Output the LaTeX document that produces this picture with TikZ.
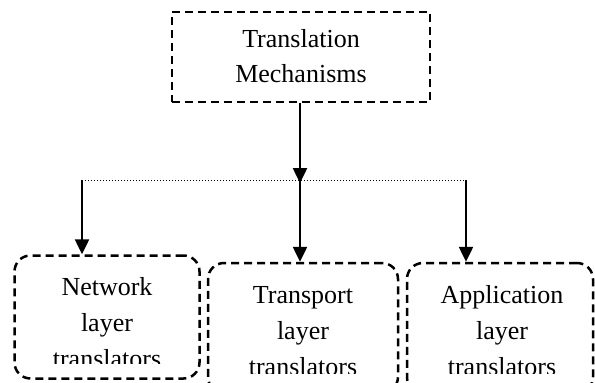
\documentclass[tikz,border=0pt]{standalone}
\usepackage{fontspec}
\setmainfont{Liberation Serif}
\usetikzlibrary{arrows.meta}

\tikzset{
  box/.style={draw, line width=2.5pt, dash pattern=on 8pt off 5pt, inner sep=0pt},
  leaf/.style={box, rounded corners=16pt},
  txt/.style={align=center, inner sep=0pt, anchor=base, font=\fontsize{26}{36}\selectfont},
  arr/.style={line width=2.5pt, -{Triangle[length=15pt,width=14pt]}}
}

\begin{document}
\begin{tikzpicture}[x=1pt,y=-1pt]
    \useasboundingbox (0,0) rectangle (595,383);
    \clip (0,0) rectangle (595,383);
    \node[box, minimum width=258pt, minimum height=90pt] (mech) at (301,57) {};
    \node[txt, font=\fontsize{26}{35}\selectfont] (mechtxt) at (301,82) {Translation\\Mechanisms};
    \node[leaf, minimum width=185pt, minimum height=123pt] (net) at (107,317) {};
    \node[leaf, minimum width=190pt, minimum height=130pt] (trans) at (303,328) {};
    \node[leaf, minimum width=186pt, minimum height=130pt] (app) at (500,328) {};
    \begin{scope}
      \clip (net.north west) rectangle (net.east |- 0,363);
      \node[txt] (nettxt) at (107,367) {Network\\layer\\translators};
    \end{scope}
    \begin{scope}
      \clip (trans.north west) rectangle (trans.east |- 0,373);
      \node[txt] (transtxt) at (303,375) {Transport\\layer\\translators};
    \end{scope}
    \begin{scope}
      \clip (app.north west) rectangle (app.east |- 0,373);
      \node[txt] (apptxt) at (502,375) {Application\\layer\\translators};
    \end{scope}
    \coordinate (ll) at (82,180);
    \coordinate (mm) at (300,180);
    \coordinate (rr) at (466,180);
    \draw[arr] (mech.south -| mm) -- ([yshift=-3pt]mm);
    \draw[dotted, line width=1pt] (ll) -- (rr);
    \draw[arr] (ll) -- (ll |- net.north);
    \draw[arr] (mm) -- (mm |- trans.north);
    \draw[arr] (rr) -- (rr |- app.north);
\end{tikzpicture}
\end{document}
